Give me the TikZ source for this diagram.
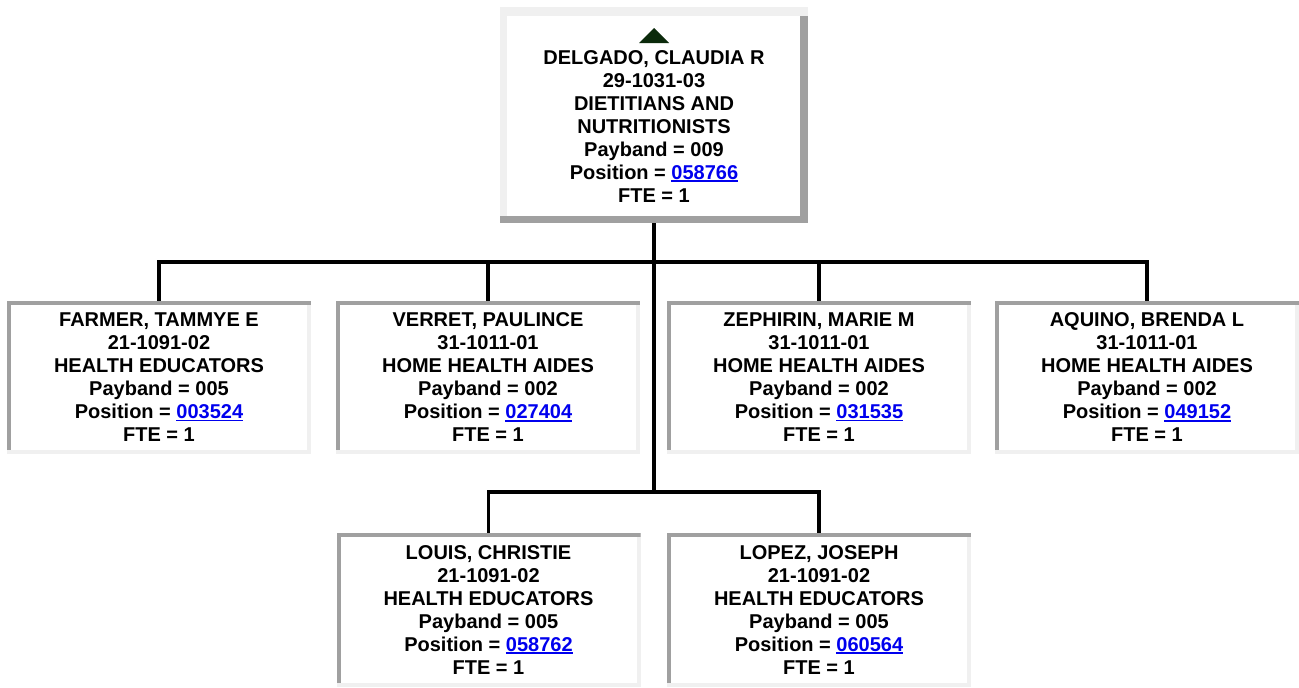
\documentclass[tikz,border=0pt]{standalone}
\usepackage{fontspec}
\setmainfont{Liberation Sans}
\usetikzlibrary{calc}
\definecolor{boxdark}{HTML}{A0A0A0}
\definecolor{boxlight}{HTML}{F0F0F0}
\definecolor{linkblue}{HTML}{0000EE}
\definecolor{trigreen}{HTML}{0B2A0B}
\newcommand\lnk[1]{\textcolor{linkblue}{\setbox0\hbox{#1}\rlap{\rule[-2.6pt]{\wd0}{1.6pt}}\box0}}
\begin{document}
\begin{tikzpicture}[x=1pt,y=-1pt,
  txt/.style={align=center,font=\fontsize{20}{23}\selectfont\bfseries,inner sep=0pt},
  childbox/.style={txt,minimum width=304pt,minimum height=153pt,fill=boxlight,
    path picture={
      \fill[boxdark] (path picture bounding box.north west) rectangle ([yshift=-4pt]path picture bounding box.north east);
      \fill[boxdark] (path picture bounding box.north west) rectangle ([xshift=4pt,yshift=4pt]path picture bounding box.south west);
      \fill[white] ([xshift=4pt,yshift=-4pt]path picture bounding box.north west) rectangle ([xshift=-4pt,yshift=4pt]path picture bounding box.south east);
    }},
  topbox/.style={txt,minimum width=308pt,minimum height=216pt,fill=boxdark,
    path picture={
      \fill[boxlight] (path picture bounding box.north west) rectangle ([yshift=-9pt]path picture bounding box.north east);
      \fill[boxlight] (path picture bounding box.north west) rectangle ([xshift=7pt,yshift=7pt]path picture bounding box.south west);
      \fill[white] ([xshift=7pt,yshift=-9pt]path picture bounding box.north west) rectangle ([xshift=-8pt,yshift=7pt]path picture bounding box.south east);
    }},
  conn/.style={line width=3.5pt,draw=black},
  tri/.style={fill=trigreen}
]
\useasboundingbox[fill=white] (0,0) rectangle (1299,688);

\node[topbox] (top) at (654,115) {\vphantom{X}\\DELGADO, CLAUDIA R\\29-1031-03\\DIETITIANS AND\\NUTRITIONISTS\\Payband = 009\\Position = \lnk{058766}\\FTE = 1};
\fill[tri] ([shift={(-15,-72)}]top.center) -- ([shift={(15,-72)}]top.center) -- ([shift={(0,-87)}]top.center) -- cycle;

\node[childbox] (farmer) at (159,377.5) {FARMER, TAMMYE E\\21-1091-02\\HEALTH EDUCATORS\\Payband = 005\\Position = \lnk{003524}\\FTE = 1};
\node[childbox] (verret) at (488,377.5) {VERRET, PAULINCE\\31-1011-01\\HOME HEALTH AIDES\\Payband = 002\\Position = \lnk{027404}\\FTE = 1};
\node[childbox] (zephirin) at (819,377.5) {ZEPHIRIN, MARIE M\\31-1011-01\\HOME HEALTH AIDES\\Payband = 002\\Position = \lnk{031535}\\FTE = 1};
\node[childbox] (aquino) at (1147,377.5) {AQUINO, BRENDA L\\31-1011-01\\HOME HEALTH AIDES\\Payband = 002\\Position = \lnk{049152}\\FTE = 1};

\node[childbox,minimum height=154pt] (louis) at (488.5,610) {LOUIS, CHRISTIE\\21-1091-02\\HEALTH EDUCATORS\\Payband = 005\\Position = \lnk{058762}\\FTE = 1};
\node[childbox,minimum height=154pt] (lopez) at (819,610) {LOPEZ, JOSEPH\\21-1091-02\\HEALTH EDUCATORS\\Payband = 005\\Position = \lnk{060564}\\FTE = 1};

\coordinate (bus1) at (654,262);
\coordinate (bus2) at (654,492);

\draw[conn] (top.south) -- (bus2);
\draw[conn] (farmer.north) |- (bus1) -| (aquino.north);
\draw[conn] (verret.north) -- (verret.north |- bus1);
\draw[conn] (zephirin.north) -- (zephirin.north |- bus1);
\draw[conn] (louis.north) |- (bus2) -| (lopez.north);
\end{tikzpicture}
\end{document}
